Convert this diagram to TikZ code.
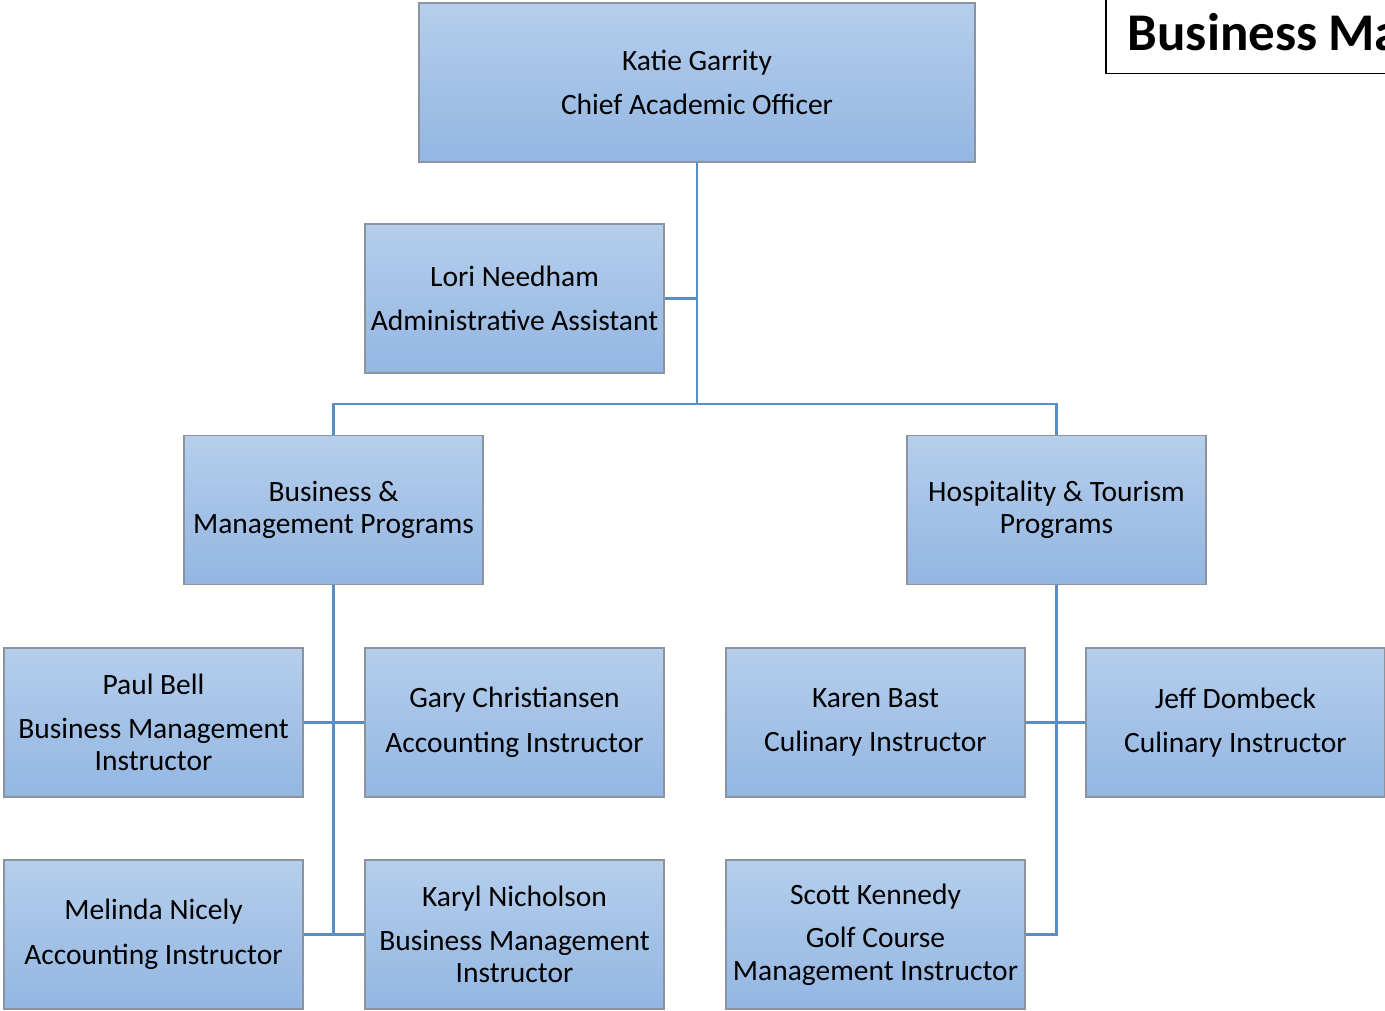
\documentclass[tikz,border=0pt]{standalone}
\usepackage{fontspec}
\setmainfont{Carlito}
\usepackage{xcolor}
\definecolor{boxtop}{HTML}{B5CEEB}
\definecolor{boxbot}{HTML}{93B6E3}
\definecolor{boxline}{HTML}{8A939E}
\definecolor{linkblue}{HTML}{5A8DC8}
\begin{document}
\begin{tikzpicture}[x=1pt,y=-1pt,
  staff/.style={rectangle, draw=boxline, line width=1.5pt, top color=boxtop, bottom color=boxbot,
    minimum width=299pt, minimum height=149pt, inner sep=0pt, align=center,
    font=\fontsize{29.5}{32.5}\selectfont},
  conn/.style={draw=linkblue, line width=2.5pt}]
\useasboundingbox (0,0) rectangle (1385,1011);
\node[staff, minimum width=556pt, minimum height=159pt] (cao) at (697,82.5) {Katie Garrity\\[12pt]Chief Academic Officer};
\node[staff] (assistant) at (514.5,298.5) {Lori Needham\\[12pt]Administrative Assistant};
\node[staff] (business) at (333.5,510) {Business \&\\Management Programs};
\node[staff] (hospitality) at (1056.5,510) {Hospitality \& Tourism\\Programs};
\node[staff] (bell) at (153.5,722.5) {Paul Bell\\[11pt]Business Management\\Instructor};
\node[staff] (christiansen) at (514.5,722.5) {Gary Christiansen\\[12pt]Accounting Instructor};
\node[staff] (bast) at (875.5,722.5) {Karen Bast\\[12pt]Culinary Instructor};
\node[staff] (dombeck) at (1235.5,722.5) {Jeff Dombeck\\[12pt]Culinary Instructor};
\node[staff] (nicely) at (153.5,934.5) {Melinda Nicely\\[12pt]Accounting Instructor};
\node[staff] (nicholson) at (514.5,934.5) {Karyl Nicholson\\[11pt]Business Management\\Instructor};
\node[staff] (kennedy) at (875.5,934.5) {Scott Kennedy\\[11pt]Golf Course\\Management Instructor};
\node[draw, line width=1.5pt, anchor=north west, minimum width=340pt, minimum height=84pt,
  inner xsep=22pt, text width=296pt, align=left,
  font=\fontsize{53}{58}\selectfont\bfseries] (title) at (1105,-11) {Business\hspace{11pt}Ma};

\coordinate (split) at (697,404);
\draw[conn] (cao.south) -- (split);
\draw[conn] (assistant.east) -- (assistant.east -| cao.south);
\draw[conn] (business.north) |- (split) -| (hospitality.north);
\draw[conn] (business.south) -- (business.south |- nicely.east);
\draw[conn] (bell.east) -- (christiansen.west);
\draw[conn] (nicely.east) -- (nicholson.west);
\draw[conn] (hospitality.south) |- (kennedy.east);
\draw[conn] (bast.east) -- (dombeck.west);
\end{tikzpicture}
\end{document}
